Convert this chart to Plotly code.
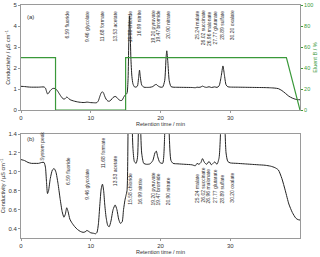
import plotly.graph_objects as go

# ---------------- data ----------------
time_min = [0.0, 0.5, 1.0, 1.5, 2.0, 2.5, 3.0, 3.3, 3.5, 3.65, 3.8, 3.95, 4.2, 4.5, 4.75,
            5.0, 5.3, 5.6, 5.9, 6.15, 6.35, 6.55, 6.75, 7.0, 7.3, 7.7, 8.1, 8.5, 8.9,
            9.2, 9.45, 9.7, 10.0, 10.4, 10.7, 10.9, 11.1, 11.3, 11.5, 11.68, 11.85,
            12.0, 12.2, 12.45, 12.65, 12.9, 13.2, 13.5, 13.75, 14.0, 14.25, 14.5,
            14.7, 14.9, 15.05, 15.2, 15.35, 15.45, 15.55, 15.65, 15.75, 15.9, 16.05,
            16.25, 16.5, 16.7, 16.85, 16.99, 17.1, 17.3, 17.6, 18.0, 18.5, 18.9,
            19.2, 19.4, 19.6, 19.9, 20.3, 20.6, 20.8, 20.9, 21.05, 21.25, 21.5,
            21.8, 22.5, 23.5, 24.5, 25.0, 25.24, 25.5, 25.8, 26.02, 26.3, 26.6,
            26.96, 27.3, 27.77, 28.1, 28.4, 28.7, 28.95, 29.15, 29.4, 29.65, 30.0,
            31.0, 32.0, 33.0, 34.0, 35.0, 35.8, 36.4, 36.9, 37.4, 37.9, 38.4,
            38.9, 39.4, 39.7, 40.0]
cond = [1.13, 1.12, 1.10, 1.09, 1.09, 1.09, 1.10, 1.10, 1.05, 0.90, 0.77, 0.80, 0.93, 1.02, 1.035,
        1.00, 0.88, 0.72, 0.58, 0.52, 0.55, 0.62, 0.58, 0.50, 0.46, 0.42, 0.39, 0.37, 0.36,
        0.365, 0.38, 0.37, 0.355, 0.35, 0.345, 0.36, 0.45, 0.65, 0.82, 0.87, 0.80,
        0.66, 0.52, 0.43, 0.42, 0.48, 0.60, 0.65, 0.60, 0.50, 0.455, 0.47,
        0.60, 0.70, 0.75, 0.80, 1.5, 3.2, 4.48, 3.8, 2.5, 1.6, 1.25,
        1.11, 1.09, 1.15, 1.5, 1.9, 1.6, 1.2, 1.09, 1.08, 1.085, 1.12,
        1.20, 1.22, 1.16, 1.10, 1.09, 1.4, 2.5, 2.82, 2.3, 1.4, 1.12,
        1.09, 1.085, 1.08, 1.075, 1.065, 1.09, 1.08, 1.10, 1.14, 1.10, 1.08,
        1.11, 1.075, 1.105, 1.08, 1.15, 1.6, 2.1, 1.7, 1.2, 1.11, 1.095,
        1.09, 1.085, 1.08, 1.075, 1.07, 1.06, 1.045, 1.02, 0.93, 0.80, 0.66,
        0.57, 0.51, 0.495, 0.49]

eluent_time = [0, 4.95, 4.95, 15.0, 15.0, 38.05, 40.0]
eluent_b = [50, 50, 0, 0, 50, 50, 0]

peak_labels = ["6.59 fluoride", "9.46 glycolate", "11.68 formate", "13.53 acetate",
               "15.58 chloride", "16.99 nitrite", "19.20 pyruvate", "19.47 bromide",
               "20.90 nitrate", "25.24 malate", "26.02 succinate", "26.96 malonate",
               "27.77 glutarate", "28.89 sulfate", "30.20 oxalate"]
label_t_top = [6.59, 9.46, 11.68, 13.53, 15.58, 16.85, 18.95, 19.6, 20.95,
               25.3, 26.1, 26.95, 27.8, 28.9, 30.2]
label_t_bottom = [6.72, 9.47, 11.8, 13.57, 15.6, 17.0, 18.95, 19.6, 21.0,
                  25.3, 26.1, 26.95, 27.8, 28.95, 30.2]
label_base_bottom = [0.85, 0.69, 1.025, 0.84, 0.64, 0.64, 0.63, 0.63, 0.64,
                     0.66, 0.66, 0.66, 0.66, 0.66, 0.66]

GREEN = "#3a993a"
GRAY = "#9a9a9a"
TXT = "#333333"
FONT = "Liberation Sans"

fig = go.Figure()
fig.add_trace(go.Scatter(x=eluent_time, y=eluent_b, xaxis="x", yaxis="y3", mode="lines",
                         line=dict(color=GREEN, width=1.2), showlegend=False, hoverinfo="skip"))
fig.add_trace(go.Scatter(x=time_min, y=cond, xaxis="x", yaxis="y", mode="lines",
                         line=dict(color="#222222", width=1, shape="spline", smoothing=0.6),
                         showlegend=False))
fig.add_trace(go.Scatter(x=time_min, y=cond, xaxis="x2", yaxis="y2", mode="lines",
                         line=dict(color="#222222", width=1, shape="spline", smoothing=0.6),
                         showlegend=False))

ann = []
for lab, t in zip(peak_labels, label_t_top):
    ann.append(dict(x=t, y=4.78, xref="x", yref="y", text=lab, textangle=-90,
                    showarrow=False, yanchor="top", xanchor="center",
                    font=dict(size=5, color=TXT, family=FONT), borderpad=0))
for lab, t, b in zip(peak_labels, label_t_bottom, label_base_bottom):
    ann.append(dict(x=t, y=b, xref="x2", yref="y2", text=lab, textangle=-90,
                    showarrow=False, yanchor="bottom", xanchor="center",
                    font=dict(size=5, color=TXT, family=FONT), borderpad=0))
ann.append(dict(x=3.1, y=1.108, xref="x2", yref="y2", text="System peak", textangle=-90,
                showarrow=False, yanchor="bottom", xanchor="center",
                font=dict(size=5, color=TXT, family=FONT), borderpad=0))
ann.append(dict(x=0.6, y=4.45, xref="x", yref="y", text="(a)", showarrow=False,
                xanchor="left", font=dict(size=6, color=TXT, family=FONT)))
ann.append(dict(x=0.6, y=1.345, xref="x2", yref="y2", text="(b)", showarrow=False,
                xanchor="left", font=dict(size=6, color=TXT, family=FONT)))

axis_common = dict(showline=True, linecolor=GRAY, linewidth=1, ticks="outside",
                   ticklen=2, tickcolor=GRAY, showgrid=False, zeroline=False,
                   automargin=False,
                   tickfont=dict(size=6, color=TXT, family=FONT))

fig.update_layout(
    width=320, height=257,
    margin=dict(l=21, r=20, t=5, b=19),
    paper_bgcolor="white", plot_bgcolor="white",
    font=dict(family=FONT, size=6, color=TXT),
    annotations=ann,
    xaxis=dict(domain=[0, 1], anchor="y", range=[0, 40], tickvals=[0, 10, 20, 30],
               mirror=True,
               title=dict(text="Retention time / min", font=dict(size=5.5, color=TXT), standoff=0),
               **axis_common),
    yaxis=dict(domain=[0.549, 1], anchor="x", range=[0, 5], dtick=1,
               title=dict(text="Conductivity / µS cm<sup>−1</sup>", font=dict(size=5.5, color=TXT), standoff=2),
               **axis_common),
    yaxis3=dict(overlaying="y", side="right", anchor="x", range=[0, 100], dtick=20,
                showline=True, linecolor=GRAY, ticks="outside", ticklen=2, tickcolor=GREEN,
                showgrid=False, zeroline=False, automargin=False, showticklabels=True,
                tickfont=dict(size=5.5, color=GREEN, family=FONT),
                title=dict(text="Eluent B / %", font=dict(size=5.5, color=GREEN), standoff=0)),
    xaxis2=dict(domain=[0, 1], anchor="y2", range=[0, 40], tickvals=[0, 10, 20, 30],
                mirror=True,
                title=dict(text="Retention time / min", font=dict(size=5.5, color=TXT), standoff=0),
                **axis_common),
    yaxis2=dict(domain=[0, 0.446], anchor="x2", range=[0.3, 1.4],
                tickvals=[0.4, 0.6, 0.8, 1.0, 1.2, 1.4], tickformat=".1f", mirror=True,
                title=dict(text="Conductivity / µS cm<sup>−1</sup>", font=dict(size=5.5, color=TXT), standoff=2),
                **axis_common),
)

fig.write_html("out.html", config={"displayModeBar": False},
               post_script="document.body.style.margin='0';document.body.style.overflow='hidden';")
